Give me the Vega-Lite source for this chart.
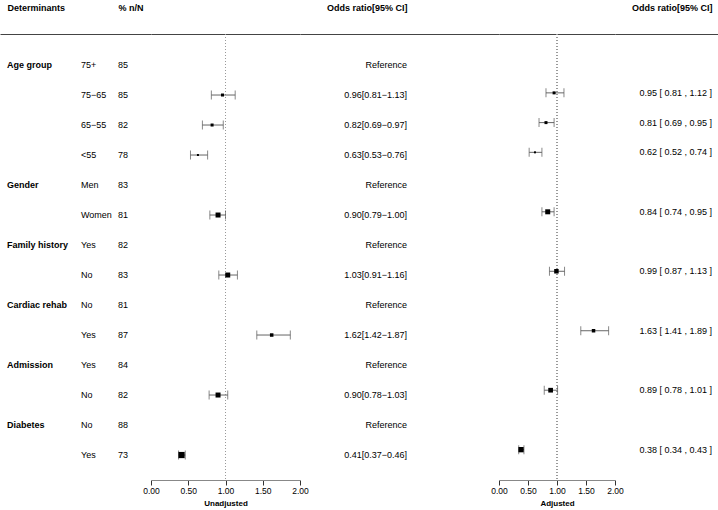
{
  "$schema": "https://vega.github.io/schema/vega-lite/v6.json",
  "padding": {"left": 0, "top": 3, "right": 0, "bottom": 0},
  "bounds": "flush",
  "spacing": 0,
  "config": {
    "view": {"stroke": null},
    "font": "Liberation Sans",
    "text": {"font": "Liberation Sans", "fontSize": 9, "color": "#000"},
    "axis": {"labelFont": "Liberation Sans", "titleFont": "Liberation Sans", "grid": false}
  },
  "data": {
    "values": [
      {"id": "Age group|75+", "group": "Age group", "level": "75+", "pct": "85", "or": null, "lo": null, "hi": null, "w": null, "orText": "Reference", "aor": null, "alo": null, "ahi": null, "aw": null, "aorText": ""},
      {"id": "Age group|75−65", "group": "Age group", "level": "75−65", "pct": "85", "or": 0.96, "lo": 0.81, "hi": 1.13, "w": 3, "orText": "0.96[0.81−1.13]", "aor": 0.95, "alo": 0.81, "ahi": 1.12, "aw": 3, "aorText": "0.95 [ 0.81 , 1.12 ]"},
      {"id": "Age group|65−55", "group": "Age group", "level": "65−55", "pct": "82", "or": 0.82, "lo": 0.69, "hi": 0.97, "w": 3, "orText": "0.82[0.69−0.97]", "aor": 0.81, "alo": 0.69, "ahi": 0.95, "aw": 3, "aorText": "0.81 [ 0.69 , 0.95 ]"},
      {"id": "Age group|<55", "group": "Age group", "level": "<55", "pct": "78", "or": 0.63, "lo": 0.53, "hi": 0.76, "w": 2, "orText": "0.63[0.53−0.76]", "aor": 0.62, "alo": 0.52, "ahi": 0.74, "aw": 2, "aorText": "0.62 [ 0.52 , 0.74 ]"},
      {"id": "Gender|Men", "group": "Gender", "level": "Men", "pct": "83", "or": null, "lo": null, "hi": null, "w": null, "orText": "Reference", "aor": null, "alo": null, "ahi": null, "aw": null, "aorText": ""},
      {"id": "Gender|Women", "group": "Gender", "level": "Women", "pct": "81", "or": 0.90, "lo": 0.79, "hi": 1.00, "w": 5, "orText": "0.90[0.79−1.00]", "aor": 0.84, "alo": 0.74, "ahi": 0.95, "aw": 5, "aorText": "0.84 [ 0.74 , 0.95 ]"},
      {"id": "Family history|Yes", "group": "Family history", "level": "Yes", "pct": "82", "or": null, "lo": null, "hi": null, "w": null, "orText": "Reference", "aor": null, "alo": null, "ahi": null, "aw": null, "aorText": ""},
      {"id": "Family history|No", "group": "Family history", "level": "No", "pct": "83", "or": 1.03, "lo": 0.91, "hi": 1.16, "w": 5, "orText": "1.03[0.91−1.16]", "aor": 0.99, "alo": 0.87, "ahi": 1.13, "aw": 4.5, "aorText": "0.99 [ 0.87 , 1.13 ]"},
      {"id": "Cardiac rehab|No", "group": "Cardiac rehab", "level": "No", "pct": "81", "or": null, "lo": null, "hi": null, "w": null, "orText": "Reference", "aor": null, "alo": null, "ahi": null, "aw": null, "aorText": ""},
      {"id": "Cardiac rehab|Yes", "group": "Cardiac rehab", "level": "Yes", "pct": "87", "or": 1.62, "lo": 1.42, "hi": 1.87, "w": 3.5, "orText": "1.62[1.42−1.87]", "aor": 1.63, "alo": 1.41, "ahi": 1.89, "aw": 3.5, "aorText": "1.63 [ 1.41 , 1.89 ]"},
      {"id": "Admission|Yes", "group": "Admission", "level": "Yes", "pct": "84", "or": null, "lo": null, "hi": null, "w": null, "orText": "Reference", "aor": null, "alo": null, "ahi": null, "aw": null, "aorText": ""},
      {"id": "Admission|No", "group": "Admission", "level": "No", "pct": "82", "or": 0.90, "lo": 0.78, "hi": 1.03, "w": 5, "orText": "0.90[0.78−1.03]", "aor": 0.89, "alo": 0.78, "ahi": 1.01, "aw": 4.7, "aorText": "0.89 [ 0.78 , 1.01 ]"},
      {"id": "Diabetes|No", "group": "Diabetes", "level": "No", "pct": "88", "or": null, "lo": null, "hi": null, "w": null, "orText": "Reference", "aor": null, "alo": null, "ahi": null, "aw": null, "aorText": ""},
      {"id": "Diabetes|Yes", "group": "Diabetes", "level": "Yes", "pct": "73", "or": 0.41, "lo": 0.37, "hi": 0.46, "w": 6.2, "orText": "0.41[0.37−0.46]", "aor": 0.38, "alo": 0.34, "ahi": 0.43, "aw": 5.3, "aorText": "0.38 [ 0.34 , 0.43 ]"}
    ]
  },
  "hconcat": [
    {
      "width": 151, "height": 446,
      "layer": [
        {
          "transform": [
            {"window": [{"op": "row_number", "as": "rn"}], "groupby": ["group"]},
            {"filter": "datum.rn == 1"}
          ],
          "mark": {"type": "text", "align": "left", "baseline": "middle", "fontWeight": "bold"},
          "encoding": {
            "x": {"datum": "group", "type": "nominal",
              "scale": {"type": "point", "domain": ["group", "gap", "level", "pct"], "padding": 0.54, "align": 0.175},
              "axis": {"orient": "top", "title": null, "ticks": false, "domain": true, "domainColor": "#444",
                "labelExpr": "datum.value == 'group' ? 'Determinants' : datum.value == 'pct' ? '% n/N' : ''",
                "labelAlign": "left", "labelFontWeight": "bold", "labelFontSize": 9, "labelColor": "#000",
                "labelPadding": 22, "labelOverlap": false, "labelAngle": 0}},
            "y": {"field": "id", "type": "nominal", "axis": null,
              "scale": {"type": "point", "domain": ["Age group|75+","Age group|75−65","Age group|65−55","Age group|<55","Gender|Men","Gender|Women","Family history|Yes","Family history|No","Cardiac rehab|No","Cardiac rehab|Yes","Admission|Yes","Admission|No","Diabetes|No","Diabetes|Yes"], "padding": 0.933, "align": 0.554}},
            "text": {"field": "group"}
          }
        },
        {
          "mark": {"type": "text", "align": "left", "baseline": "middle"},
          "encoding": {
            "x": {"datum": "level", "type": "nominal"},
            "y": {"field": "id", "type": "nominal", "axis": null},
            "text": {"field": "level"}
          }
        },
        {
          "mark": {"type": "text", "align": "left", "baseline": "middle"},
          "encoding": {
            "x": {"datum": "pct", "type": "nominal"},
            "y": {"field": "id", "type": "nominal", "axis": null},
            "text": {"field": "pct"}
          }
        }
      ]
    },
    {
      "width": 149, "height": 446,
      "resolve": {"axis": {"x": "independent"}},
      "layer": [
        {
          "mark": {"type": "rule", "strokeDash": [1, 2], "color": "#999", "strokeWidth": 1},
          "encoding": {
            "x": {"datum": 1, "type": "quantitative",
              "scale": {"domain": [0, 2], "nice": false, "zero": false},
              "axis": {"orient": "top", "title": null, "labels": false, "ticks": false, "domain": true, "domainColor": "#444"}}
          }
        },
        {
          "transform": [{"filter": "datum.or != null"}],
          "mark": {"type": "rule", "color": "#666", "strokeWidth": 1},
          "encoding": {
            "x": {"field": "lo", "type": "quantitative",
              "axis": {"orient": "bottom", "values": [0, 0.5, 1, 1.5, 2], "format": ".2f", "tickSize": 5, "tickColor": "#333", "domainColor": "#888",
                "labelFontSize": 8.5, "labelColor": "#000", "labelPadding": 1, "labelFlush": false, "labelOverlap": false,
                "title": "Unadjusted", "titleFontSize": 8, "titleFontWeight": "bold", "titleColor": "#000", "titlePadding": 5}},
            "x2": {"field": "hi"},
            "y": {"field": "id", "type": "nominal", "axis": null,
              "scale": {"type": "point", "domain": ["Age group|75+","Age group|75−65","Age group|65−55","Age group|<55","Gender|Men","Gender|Women","Family history|Yes","Family history|No","Cardiac rehab|No","Cardiac rehab|Yes","Admission|Yes","Admission|No","Diabetes|No","Diabetes|Yes"], "padding": 0.933, "align": 0.554}}
          }
        },
        {
          "transform": [{"filter": "datum.or != null"}],
          "mark": {"type": "tick", "orient": "vertical", "color": "#555", "thickness": 1, "size": 9},
          "encoding": {
            "x": {"field": "lo", "type": "quantitative", "axis": null},
            "y": {"field": "id", "type": "nominal", "axis": null}
          }
        },
        {
          "transform": [{"filter": "datum.or != null"}],
          "mark": {"type": "tick", "orient": "vertical", "color": "#555", "thickness": 1, "size": 9},
          "encoding": {
            "x": {"field": "hi", "type": "quantitative", "axis": null},
            "y": {"field": "id", "type": "nominal", "axis": null}
          }
        },
        {
          "transform": [{"filter": "datum.or != null"}],
          "mark": {"type": "square", "filled": true, "color": "#000", "opacity": 1},
          "encoding": {
            "x": {"field": "or", "type": "quantitative", "axis": null},
            "y": {"field": "id", "type": "nominal", "axis": null},
            "size": {"field": "w", "type": "quantitative", "legend": null,
              "scale": {"type": "pow", "exponent": 2, "domain": [0, 10], "range": [0, 100]}}
          }
        }
      ]
    },
    {
      "width": 199, "height": 446,
      "mark": {"type": "text", "align": "right", "baseline": "middle"},
      "encoding": {
        "x": {"datum": "or", "type": "nominal",
          "scale": {"type": "point", "domain": ["or"], "padding": 0.5, "align": 0.5377},
          "axis": {"orient": "top", "title": null, "ticks": false, "domain": true, "domainColor": "#444",
            "labelExpr": "'Odds ratio[95% CI]'", "labelAlign": "right", "labelFontWeight": "bold", "labelFontSize": 9, "labelColor": "#000",
            "labelPadding": 22, "labelOverlap": false, "labelAngle": 0}},
        "y": {"field": "id", "type": "nominal", "axis": null,
          "scale": {"type": "point", "domain": ["Age group|75+","Age group|75−65","Age group|65−55","Age group|<55","Gender|Men","Gender|Women","Family history|Yes","Family history|No","Cardiac rehab|No","Cardiac rehab|Yes","Admission|Yes","Admission|No","Diabetes|No","Diabetes|Yes"], "padding": 0.933, "align": 0.554}},
        "text": {"field": "orText"}
      }
    },
    {
      "width": 116, "height": 446,
      "resolve": {"axis": {"x": "independent"}},
      "layer": [
        {
          "mark": {"type": "rule", "strokeDash": [1, 2], "color": "#999", "strokeWidth": 1},
          "encoding": {
            "x": {"datum": 1, "type": "quantitative",
              "scale": {"domain": [0, 2], "nice": false, "zero": false},
              "axis": {"orient": "top", "title": null, "labels": false, "ticks": false, "domain": true, "domainColor": "#444"}}
          }
        },
        {
          "transform": [{"filter": "datum.aor != null"}],
          "mark": {"type": "rule", "color": "#666", "strokeWidth": 1},
          "encoding": {
            "x": {"field": "alo", "type": "quantitative",
              "axis": {"orient": "bottom", "values": [0, 0.5, 1, 1.5, 2], "format": ".2f", "tickSize": 5, "tickColor": "#333", "domainColor": "#888",
                "labelFontSize": 8.5, "labelColor": "#000", "labelPadding": 1, "labelFlush": false, "labelOverlap": false,
                "title": "Adjusted", "titleFontSize": 8, "titleFontWeight": "bold", "titleColor": "#000", "titlePadding": 5}},
            "x2": {"field": "ahi"},
            "y": {"field": "id", "type": "nominal", "axis": null,
              "scale": {"type": "point", "domain": ["Age group|75+","Age group|75−65","Age group|65−55","Age group|<55","Gender|Men","Gender|Women","Family history|Yes","Family history|No","Cardiac rehab|No","Cardiac rehab|Yes","Admission|Yes","Admission|No","Diabetes|No","Diabetes|Yes"], "padding": 1.034, "align": 0.49}}
          }
        },
        {
          "transform": [{"filter": "datum.aor != null"}],
          "mark": {"type": "tick", "orient": "vertical", "color": "#555", "thickness": 1, "size": 9},
          "encoding": {
            "x": {"field": "alo", "type": "quantitative", "axis": null},
            "y": {"field": "id", "type": "nominal", "axis": null}
          }
        },
        {
          "transform": [{"filter": "datum.aor != null"}],
          "mark": {"type": "tick", "orient": "vertical", "color": "#555", "thickness": 1, "size": 9},
          "encoding": {
            "x": {"field": "ahi", "type": "quantitative", "axis": null},
            "y": {"field": "id", "type": "nominal", "axis": null}
          }
        },
        {
          "transform": [{"filter": "datum.aor != null"}],
          "mark": {"type": "square", "filled": true, "color": "#000", "opacity": 1},
          "encoding": {
            "x": {"field": "aor", "type": "quantitative", "axis": null},
            "y": {"field": "id", "type": "nominal", "axis": null},
            "size": {"field": "aw", "type": "quantitative", "legend": null,
              "scale": {"type": "pow", "exponent": 2, "domain": [0, 10], "range": [0, 100]}}
          }
        }
      ]
    },
    {
      "width": 103, "height": 446,
      "mark": {"type": "text", "align": "right", "baseline": "middle"},
      "encoding": {
        "x": {"datum": "adj", "type": "nominal",
          "scale": {"type": "point", "domain": ["adj"], "padding": 0.5, "align": 0.9417},
          "axis": {"orient": "top", "title": null, "ticks": false, "domain": true, "domainColor": "#444",
            "labelExpr": "'Odds ratio[95% CI]'", "labelAlign": "right", "labelFontWeight": "bold", "labelFontSize": 9, "labelColor": "#000",
            "labelPadding": 22, "labelOverlap": false, "labelAngle": 0}},
        "y": {"field": "id", "type": "nominal", "axis": null,
          "scale": {"type": "point", "domain": ["Age group|75+","Age group|75−65","Age group|65−55","Age group|<55","Gender|Men","Gender|Women","Family history|Yes","Family history|No","Cardiac rehab|No","Cardiac rehab|Yes","Admission|Yes","Admission|No","Diabetes|No","Diabetes|Yes"], "padding": 1.034, "align": 0.49}},
        "text": {"field": "aorText"}
      }
    }
  ]
}
